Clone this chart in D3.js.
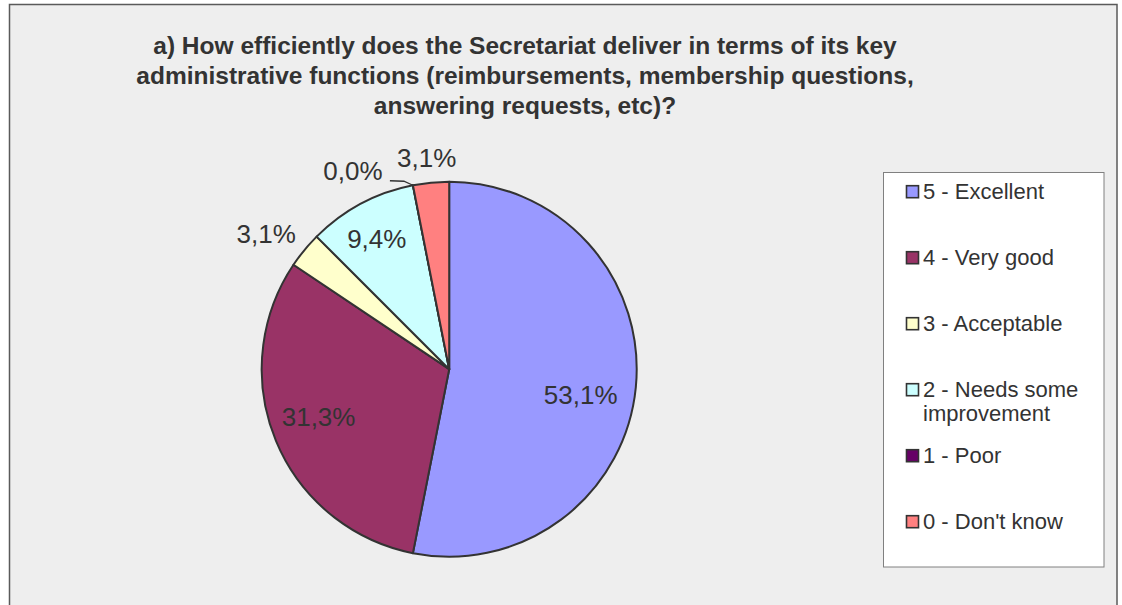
<!DOCTYPE html>
<html>
<head>
<meta charset="utf-8">
<script src="https://cdn.jsdelivr.net/npm/d3@7"></script>
<style>
  html, body { margin: 0; padding: 0; background: #ffffff; }
  svg { display: block; }
  text { font-family: "Liberation Sans", Arial, sans-serif; fill: #333333; }
</style>
</head>
<body>
<svg id="chart" width="1122" height="605"></svg>
<script>
// Survey answers, share of respondents (%)
const categories = ["5 - Excellent", "4 - Very good", "3 - Acceptable", "2 - Needs some improvement", "1 - Poor", "0 - Don't know"];
const values = [53.1, 31.3, 3.1, 9.4, 0.0, 3.1];
const sliceColors = ["#9999FF", "#993366", "#FFFFCC", "#CCFFFF", "#660066", "#FF8080"];
const legendLines = [["5 - Excellent"], ["4 - Very good"], ["3 - Acceptable"], ["2 - Needs some", "improvement"], ["1 - Poor"], ["0 - Don't know"]];
const titleLines = [
  "a) How efficiently does the Secretariat deliver in terms of its key",
  "administrative functions (reimbursements, membership questions,",
  "answering requests, etc)?"
];

const svg = d3.select("#chart");

// chart area with frame (open at the bottom edge of the view)
svg.append("rect").attr("x", 9.5).attr("y", 4.5).attr("width", 1107.5).attr("height", 620)
  .attr("fill", "#EEEEEE").attr("stroke", "#5a5a5a").attr("stroke-width", 1.5);

// title
const title = svg.append("text").attr("text-anchor", "middle")
  .attr("font-size", 24.5).attr("font-weight", "bold");
titleLines.forEach((t, i) => {
  title.append("tspan").attr("x", 525).attr("y", 54 + i * 30).text(t);
});

// pie
const cx = 449.2, cy = 369.2, R = 187.5;
const g = svg.append("g").attr("transform", `translate(${cx},${cy})`);
const pie = d3.pie().sort(null).value(d => d.value);
const data = categories.map((c, i) => ({ cat: c, value: values[i], color: sliceColors[i] }));
const arcs = pie(data);
const arc = d3.arc().innerRadius(0).outerRadius(R);

g.selectAll("path.slice").data(arcs).enter().append("path")
  .attr("class", "slice")
  .attr("d", arc)
  .attr("fill", d => d.data.color)
  .attr("stroke", "#333333").attr("stroke-width", 2).attr("stroke-linejoin", "round");

// percentage labels: inside for large slices, outside for thin ones
const fmt = v => d3.format(".1f")(v).replace(".", ",") + "%";
const polar = (ang, r) => [r * Math.sin(ang), -r * Math.cos(ang)];
const deg = Math.PI / 180;
const labelShift = [5.5, 2.5, -3, -1, 0, -0.5]; // degrees, keeps labels clear of neighbours

arcs.forEach((a, i) => {
  const mid = (a.startAngle + a.endAngle) / 2 + labelShift[i] * deg;
  const share = a.data.value;
  let pos;
  if (share === 0) {
    // zero slice: label set off to the left with a leader line
    const edge = polar(a.startAngle, R);
    const tx = edge[0] - 60, ty = edge[1] - 14;
    g.append("path")
      .attr("d", d3.line()([[edge[0] - 23, edge[1] - 4.5], [edge[0] - 9, edge[1] - 4], edge]))
      .attr("fill", "none").attr("stroke", "#333333").attr("stroke-width", 1.3);
    pos = [tx, ty];
  } else if (share < 5) {
    pos = polar(mid, i === 2 ? R + 40 : R + 25);
  } else {
    pos = polar(mid, i === 0 ? 134 : (i === 1 ? 139 : 149));
  }
  g.append("text").attr("x", pos[0]).attr("y", pos[1])
    .attr("text-anchor", "middle").attr("dominant-baseline", "central")
    .attr("font-size", 26).text(fmt(share));
});

// legend
const legend = svg.append("g");
legend.append("rect").attr("x", 883.5).attr("y", 172.5).attr("width", 220.5).attr("height", 394.5)
  .attr("fill", "#ffffff").attr("stroke", "#808080").attr("stroke-width", 1);
const rowY = d3.scaleLinear().domain([0, 1]).range([191.7, 257.7]);
legendLines.forEach((lines, i) => {
  const y = rowY(i);
  legend.append("rect").attr("x", 906.5).attr("y", y - 6).attr("width", 12).attr("height", 12)
    .attr("fill", sliceColors[i]).attr("stroke", "#333333").attr("stroke-width", 1.6);
  lines.forEach((t, j) => {
    legend.append("text").attr("x", 923).attr("y", y + j * 24)
      .attr("dominant-baseline", "central").attr("font-size", 22).text(t);
  });
});
</script>
</body>
</html>
